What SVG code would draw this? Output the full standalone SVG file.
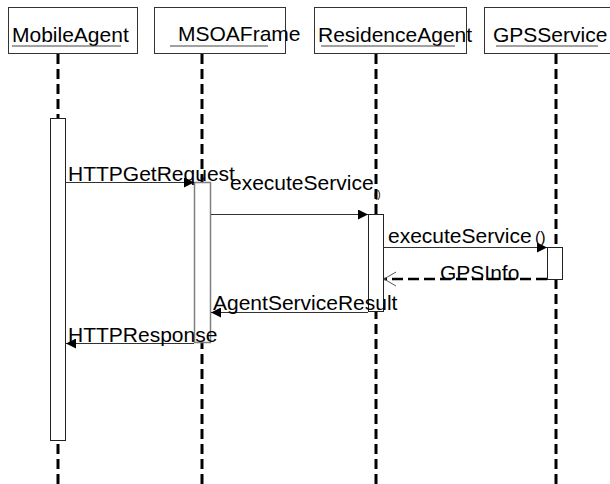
<svg xmlns="http://www.w3.org/2000/svg" width="610" height="484" viewBox="0 0 610 484">
  <style>
    text { font-family: "Liberation Sans", Arial, sans-serif; font-size: 21px; fill: #000; }
    .small { font-size: 10px; }
    .paren { font-size: 16px; }
    .head { fill: #fff; stroke: #333; stroke-width: 1; }
    .uline { stroke: #444; stroke-width: 1.2; }
    .life { stroke: #000; stroke-width: 3; stroke-dasharray: 10 5; fill: none; }
    .act { fill: #fff; stroke: #222; stroke-width: 1; }
    .act-grey { fill: #fff; stroke: #808080; stroke-width: 1.5; }
    .msg { stroke: #333; stroke-width: 1.2; fill: none; }
    .ret { stroke: #000; stroke-width: 2.5; stroke-dasharray: 11 5; fill: none; }
  </style>
  <defs>
    <marker id="filled" viewBox="0 0 10 10" refX="10" refY="5" markerWidth="10" markerHeight="10" markerUnits="userSpaceOnUse" orient="auto">
      <path d="M0,0 L10,5 L0,10 Z" fill="#000"/>
    </marker>
    <marker id="open" viewBox="0 0 14 16" refX="13" refY="8" markerWidth="14" markerHeight="16" markerUnits="userSpaceOnUse" orient="auto">
      <path d="M1,1 L13,8 L1,15" fill="none" stroke="#555" stroke-width="1"/>
    </marker>
  </defs>

  <!-- MobileAgent -->
  <g id="mobileAgent">
    <line class="life" x1="58" y1="54" x2="58" y2="484"/>
    <rect class="head" x="8.5" y="7.5" width="129" height="46"/>
    <text x="12" y="42">MobileAgent</text>
    <line class="uline" x1="12" y1="46" x2="121" y2="46"/>
    <rect class="act" x="50.5" y="118.5" width="15" height="322"/>
  </g>

  <!-- MSOAFrame -->
  <g id="msoaFrame">
    <line class="life" x1="202" y1="54" x2="202" y2="484"/>
    <rect class="head" x="154.5" y="7.5" width="131" height="46"/>
    <text x="178" y="41">MSOAFrame</text>
    <line class="uline" x1="170" y1="46" x2="268" y2="46"/>
    <rect class="act-grey" x="194.5" y="182.5" width="16" height="160"/>
  </g>

  <!-- ResidenceAgent -->
  <g id="residenceAgent">
    <line class="life" x1="376" y1="54" x2="376" y2="484"/>
    <rect class="head" x="314.5" y="7.5" width="152" height="46"/>
    <text x="318" y="42">ResidenceAgent</text>
    <line class="uline" x1="321" y1="46" x2="455" y2="46"/>
    <rect class="act" x="368.5" y="214.5" width="15" height="97"/>
  </g>

  <!-- GPSService -->
  <g id="gpsService">
    <line class="life" x1="556" y1="54" x2="556" y2="484"/>
    <rect class="head" x="484.5" y="7.5" width="130" height="46"/>
    <text x="493" y="42">GPSService</text>
    <line class="uline" x1="496" y1="46" x2="598" y2="46"/>
    <rect class="act" x="547.5" y="247.5" width="15" height="32"/>
  </g>

  <!-- messages -->
  <g id="connectors">
    <line class="msg" x1="66" y1="182.5" x2="194" y2="182.5" marker-end="url(#filled)"/>
    <text x="68" y="181">HTTPGetRequest</text>

    <line class="msg" x1="211" y1="214.5" x2="368" y2="214.5" marker-end="url(#filled)"/>
    <text x="230" y="190">executeService</text>
    <text class="small" x="374" y="198">()</text>

    <line class="msg" x1="383" y1="247.5" x2="547" y2="247.5" marker-end="url(#filled)"/>
    <text x="388" y="243">executeService</text>
    <text class="paren" x="535" y="243">()</text>

    <line class="ret" x1="547" y1="279" x2="384" y2="279" marker-end="url(#open)"/>
    <text x="440" y="280">GPSInfo</text>

    <line class="msg" x1="368" y1="312.5" x2="211" y2="312.5" marker-end="url(#filled)"/>
    <text x="213" y="310">AgentServiceResult</text>

    <line class="msg" x1="194" y1="343.5" x2="66" y2="343.5" marker-end="url(#filled)"/>
    <text x="68" y="342">HTTPResponse</text>
  </g>
</svg>
